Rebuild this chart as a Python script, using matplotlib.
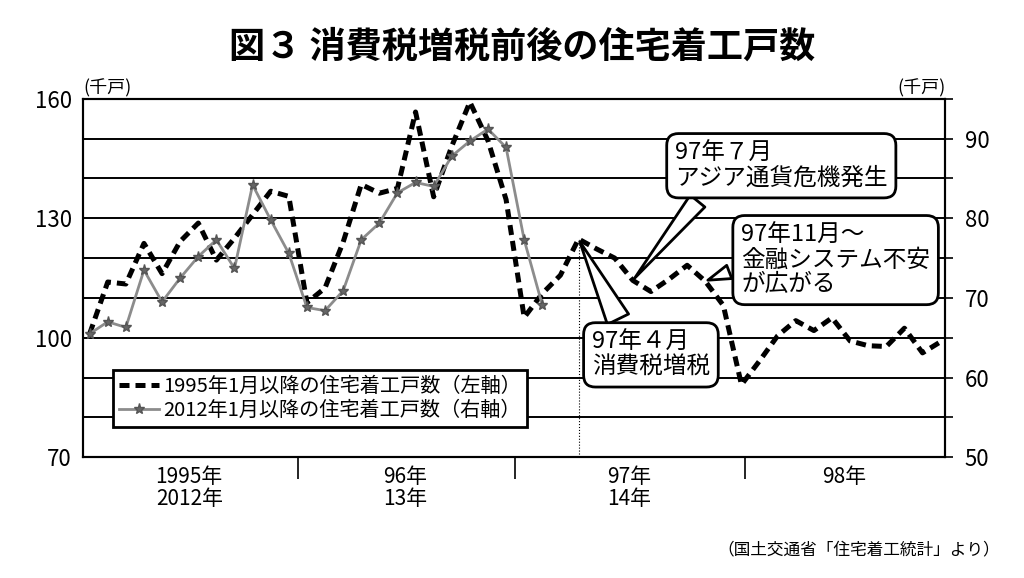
import numpy as np
import matplotlib.pyplot as plt

plt.rcParams['font.family'] = ['Noto Sans CJK JP', 'DejaVu Sans']

# 1995年1月以降の住宅着工戸数 (左軸, 千戸) 95/1 - 98/12
starts_95 = [101.0, 114.0, 113.5, 123.7, 116.1, 124.2, 128.8, 119.5, 125.0, 130.9, 136.8, 135.5,
             108.8, 112.5, 124.0, 138.5, 136.3, 137.5, 156.7, 135.4, 148.1, 159.2, 149.5, 134.7,
             105.1, 111.1, 115.7, 124.8, 122.3, 120.0, 114.4, 111.6, 114.7, 118.2, 114.2, 108.1,
             88.2, 94.2, 100.5, 104.3, 101.8, 105.0, 99.2, 98.0, 97.8, 102.4, 96.2, 99.0]
# 2012年1月以降の住宅着工戸数 (右軸, 千戸) 12/1 - 14/2
starts_12 = [65.5, 67.0, 66.3, 73.5, 69.5, 72.5, 75.2, 77.3, 73.7, 84.2, 79.8, 75.6,
             68.8, 68.4, 70.9, 77.3, 79.4, 83.2, 84.5, 84.0, 87.8, 89.7, 91.2, 88.9,
             77.3, 69.1]

year_edges = [11.5, 23.5, 36.2]
year_centers = [5.5, 17.4, 29.8, 41.7]
year_labels = ['1995年\n2012年', '96年\n13年', '97年\n14年', '98年']

tax_month = 27      # 97年4月
crisis_month = 30   # 97年7月
finance_month = 34  # 97年11月

m95 = np.arange(len(starts_95))
m12 = np.arange(len(starts_12))

fig = plt.figure(figsize=(10.24, 5.78), dpi=100)
ax = fig.add_axes([0.081, 0.209, 0.842, 0.62])
ax2 = ax.twinx()

l1, = ax.plot(m95, starts_95, color='black', lw=3.6, ls=(0, (2.0, 1.2)))
l2, = ax2.plot(m12, starts_12, color='#8c8c8c', lw=2.0, marker='*', ms=8,
               mfc='#666666', mec='#555555')
ax.vlines(tax_month, 70, starts_95[tax_month], color='black', lw=0.8, ls=':')

ax.set_xlim(-0.37, 47.25)
ax.set_ylim(70, 160)
ax2.set_ylim(50, 95)

ax.set_yticks([70, 100, 130, 160])
ax.set_yticks(np.arange(70, 161, 10), minor=True)
ax.grid(axis='y', which='both', color='black', lw=1.4)
ax.set_axisbelow(True)
ax.tick_params(axis='y', which='both', length=0, labelsize=16, pad=8)

ax2.set_yticks([50, 60, 70, 80, 90])
ax2.set_yticks([55, 65, 75, 85, 95], minor=True)
ax2.tick_params(axis='y', which='both', direction='out', length=6, width=1.2,
                labelsize=16, pad=8)

ax.set_xticks(year_edges)
ax.set_xticklabels([])
ax.tick_params(axis='x', which='major', direction='out', length=16, width=1.2)
ax.set_xticks(year_centers, minor=True)
ax.set_xticklabels(year_labels, minor=True)
ax.tick_params(axis='x', which='minor', length=0, labelsize=15, pad=6)
for t in ax.get_xticklabels(minor=True):
    t.set_linespacing(1.05)

for a in (ax, ax2):
    for s in a.spines.values():
        s.set_linewidth(1.5)

ax.text(0.0, 1.005, '(千戸)', transform=ax.transAxes, ha='left', va='bottom', fontsize=13)
ax.text(1.0, 1.005, '(千戸)', transform=ax.transAxes, ha='right', va='bottom', fontsize=13)

leg = ax2.legend([l1, l2], ['1995年1月以降の住宅着工戸数（左軸）', '2012年1月以降の住宅着工戸数（右軸）'],
                 loc='lower left', bbox_to_anchor=(0.035, 0.085), fancybox=False,
                 edgecolor='black', framealpha=1, fontsize=14.5, handlelength=2.0,
                 handletextpad=0.2, borderpad=0.3, labelspacing=0.15, borderaxespad=0)
leg.get_frame().set_linewidth(2)

box = dict(boxstyle='round,pad=0.35,rounding_size=0.5', fc='white', ec='black', lw=2)
ax2.annotate('97年７月\nアジア通貨危機発生', xy=(crisis_month, starts_95[crisis_month]),
             xycoords=ax.transData, xytext=(38.2, 143.2), textcoords=ax.transData,
             ha='center', va='center', multialignment='left', fontsize=17, linespacing=1.1,
             bbox=box,
             arrowprops=dict(arrowstyle='wedge,tail_width=0.8,shrink_factor=0.5',
                             fc='white', ec='black', lw=2, relpos=(0.15, 0.0)))
ax2.annotate('97年11月～\n金融システム不安\nが広がる', xy=(finance_month, starts_95[finance_month]),
             xycoords=ax.transData, xytext=(41.2, 119.5), textcoords=ax.transData,
             ha='center', va='center', multialignment='left', fontsize=17, linespacing=1.1,
             bbox=box,
             arrowprops=dict(arrowstyle='wedge,tail_width=0.6,shrink_factor=0.5',
                             fc='white', ec='black', lw=2, relpos=(0.0, 0.4)))
ax2.annotate('97年４月\n消費税増税', xy=(tax_month, starts_95[tax_month]),
             xycoords=ax.transData, xytext=(31.0, 95.7), textcoords=ax.transData,
             ha='center', va='center', multialignment='left', fontsize=17, linespacing=1.1,
             bbox=box,
             arrowprops=dict(arrowstyle='wedge,tail_width=1.0,shrink_factor=0.5',
                             fc='white', ec='black', lw=2, relpos=(0.27, 1.0)))

fig.text(0.51, 0.918, '図３ 消費税増税前後の住宅着工戸数', ha='center', va='center',
         fontsize=26, fontweight='bold')
fig.text(0.977, 0.048, '（国土交通省「住宅着工統計」より）', ha='right', va='center', fontsize=12)

fig.savefig('out.png', dpi=100)
